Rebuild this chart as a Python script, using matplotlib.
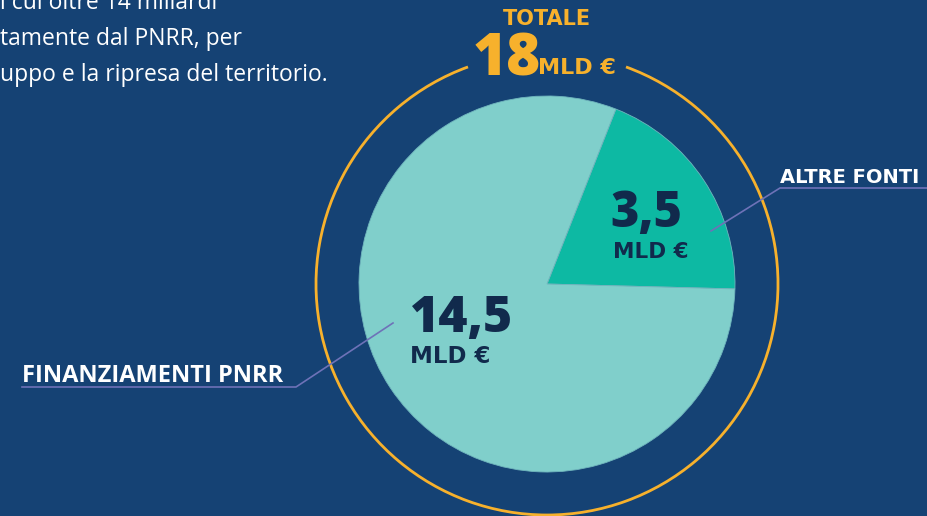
import matplotlib.pyplot as plt
from matplotlib.patches import Arc

# data
labels = ['ALTRE FONTI', 'FINANZIAMENTI PNRR']
values = [3.5, 14.5]
value_texts = ['3,5', '14,5']
total_text = '18'
unit = 'MLD €'
intro_lines = ['i cui oltre 14 miliardi',
               'tamente dal PNRR, per',
               'uppo e la ripresa del territorio.']

BG = '#154274'
LIGHT = '#80CFCB'
DARK = '#0DB9A3'
NAVY = '#112A4C'
ORANGE = '#F7B12C'
LEADER = '#6E72B8'

W, H = 928, 516
fig = plt.figure(figsize=(W / 100, H / 100), dpi=100, facecolor=BG)
ax = fig.add_axes([0, 0, 1, 1])
ax.set_aspect('equal')
ax.set_facecolor(BG)


def Y(y):
    # image row -> data y
    return H - y


cx, cy, r = 547, Y(284), 188
ax.pie(values, colors=[DARK, LIGHT], startangle=-1.5, center=(cx, cy), radius=r,
       wedgeprops=dict(linewidth=0.6, edgecolor='#6FB5BD'), frame=True)
ax.set_xlim(0, W)
ax.set_ylim(0, H)
ax.axis('off')

# orange ring with gap at the top
ax.add_patch(Arc((cx, cy), 462, 462, theta1=110, theta2=430, color=ORANGE, lw=2.0))

num_font = 'Open Sans'
cap_font = 'DejaVu Sans'
heavy = 800
ax.text(547, Y(25), 'TOTALE', color=ORANGE, fontsize=15, fontweight='bold',
        family=cap_font, ha='center', va='baseline')
ax.text(473, Y(75), total_text, color=ORANGE, fontsize=42, fontweight=heavy,
        family=num_font, ha='left', va='baseline')
ax.text(538, Y(74), unit, color=ORANGE, fontsize=16, fontweight='bold',
        family=cap_font, ha='left', va='baseline')

# values inside slices
ax.text(410, Y(332), value_texts[1], color=NAVY, fontsize=36, fontweight=heavy,
        family=num_font, ha='left', va='baseline')
ax.text(410, Y(363), unit, color=NAVY, fontsize=16.5, fontweight='bold',
        family=cap_font, ha='left', va='baseline')
ax.text(646, Y(227), value_texts[0], color=NAVY, fontsize=35, fontweight=heavy,
        family=num_font, ha='center', va='baseline')
ax.text(651, Y(258), unit, color=NAVY, fontsize=15.5, fontweight='bold',
        family=cap_font, ha='center', va='baseline')

# leader lines and labels
ax.plot([711, 780, 928], [Y(231), Y(188), Y(188)], color=LEADER, lw=1.2)
ax.text(780, Y(183), labels[0], color='white', fontsize=14, fontweight='bold',
        family=cap_font, ha='left', va='baseline')
ax.plot([393, 296, 22], [Y(323), Y(387), Y(387)], color=LEADER, lw=1.2)
ax.text(22, Y(382), labels[1], color='white', fontsize=17, fontweight='bold',
        family=num_font, ha='left', va='baseline')

# intro text (cut at left edge, as in the source layout)
for i, line in enumerate(intro_lines):
    ax.text(0, Y(9 + 36 * i), line, color='white', fontsize=16.5, family='Open Sans',
            ha='left', va='baseline')

fig.savefig('out.png', dpi=100, facecolor=BG)
